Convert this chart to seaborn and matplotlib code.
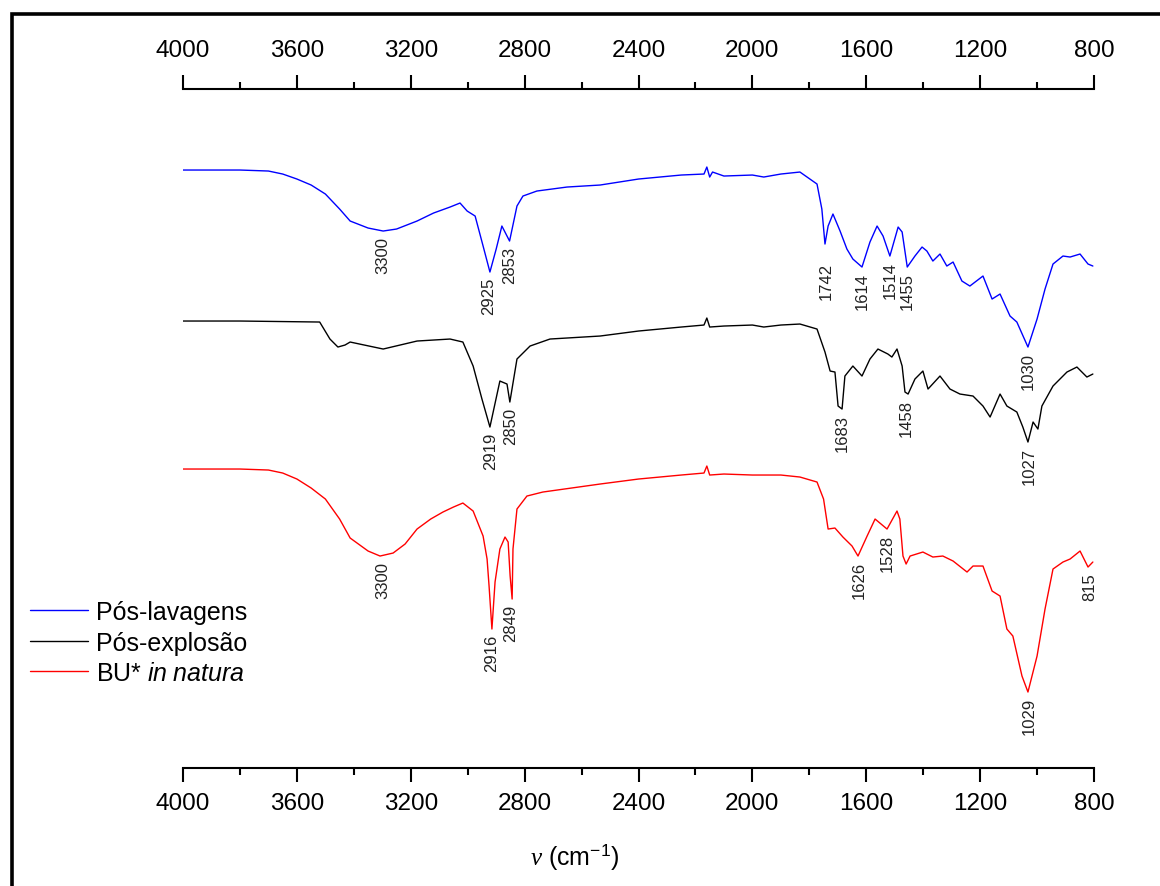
import numpy as np
import pandas as pd
import seaborn as sns
import matplotlib.pyplot as plt
from matplotlib.patches import Rectangle
from matplotlib.ticker import MultipleLocator

# Series names and colours
samples = ["Pós-lavagens", "Pós-explosão", "BU* in natura"]
legend_labels = ["Pós-lavagens", "Pós-explosão", "BU* $\\mathsf{in\\ natura}$"]
colors = ["#0000ff", "#000000", "#ff0000"]

# Pós-lavagens (wavenumber cm-1, transmittance a.u. with offset)
nu_lav = [4000, 3800, 3700, 3650, 3600, 3550, 3500, 3450, 3413, 3350, 3297, 3250,
          3178, 3120, 3062, 3027, 3002,
          2974, 2946, 2922, 2900, 2880, 2853, 2827, 2806, 2757, 2651, 2535, 2400,
          2250, 2170, 2160, 2150, 2140, 2100, 2000, 1960, 1900, 1833, 1773, 1756,
          1745, 1734, 1717, 1692, 1668, 1647, 1615, 1587, 1562, 1541, 1517, 1488,
          1474, 1456, 1429, 1404, 1387, 1366, 1341, 1317, 1295, 1264, 1236, 1190,
          1158, 1130, 1095, 1071, 1032, 1000, 972, 944, 909, 884, 849, 821, 804]
t_lav = [59.7, 59.7, 59.6, 59.3, 58.8, 58.2, 57.3, 55.8, 54.6, 53.9, 53.6, 53.8,
         54.6, 55.4, 56.0, 56.4, 55.6,
         55.1, 52.1, 49.5, 51.8, 54.1, 52.6, 56.1, 57.1, 57.6, 58.0, 58.2, 58.8,
         59.2, 59.3, 60.0, 59.0, 59.5, 59.1, 59.2, 59.0, 59.3, 59.5, 58.3, 55.8,
         52.3, 54.1, 55.3, 53.6, 51.8, 50.8, 50.0, 52.5, 54.1, 53.1, 51.1, 54.0,
         53.5, 50.0, 51.1, 52.0, 51.6, 50.6, 51.3, 50.1, 50.5, 48.6, 48.1, 49.1,
         46.8, 47.3, 45.1, 44.5, 42.0, 44.8, 47.8, 50.3, 51.1, 51.0, 51.3, 50.3, 50.1]

# Pós-explosão
nu_exp = [4000, 3800, 3520, 3484, 3456, 3431, 3413, 3380, 3297, 3178, 3062, 3017,
          2981, 2950, 2922, 2887, 2862, 2852, 2827, 2781, 2711, 2535, 2400, 2250,
          2170, 2160, 2150, 2100, 2000, 1960, 1900, 1833, 1773, 1745, 1727, 1710,
          1699, 1685, 1675, 1647, 1615, 1587, 1559, 1524, 1510, 1492, 1474, 1464,
          1453, 1429, 1401, 1383, 1341, 1306, 1271, 1225, 1190, 1165, 1130, 1106,
          1071, 1050, 1032, 1014, 997, 983, 944, 895, 860, 825, 804]
t_exp = [44.6, 44.6, 44.5, 42.8, 42.0, 42.2, 42.5, 42.3, 41.8, 42.6, 42.8, 42.5,
         40.1, 36.8, 34.0, 38.6, 38.3, 36.5, 40.8, 42.1, 42.8, 43.1, 43.6, 44.0,
         44.2, 44.9, 44.0, 44.1, 44.2, 44.0, 44.2, 44.3, 43.8, 41.5, 39.6, 39.5,
         36.1, 35.8, 39.1, 40.1, 39.1, 40.8, 41.8, 41.3, 41.0, 41.8, 40.1, 37.5,
         37.3, 38.8, 39.6, 37.8, 39.1, 37.8, 37.3, 37.1, 36.1, 35.0, 37.3, 36.1,
         35.5, 34.0, 32.5, 34.5, 33.8, 36.1, 38.1, 39.5, 40.0, 39.0, 39.3]

# BU* in natura
nu_nat = [4000, 3800, 3700, 3650, 3600, 3550, 3500, 3450, 3413, 3350, 3308, 3262,
          3220, 3178, 3130, 3087, 3050, 3017, 2981,
          2946, 2932, 2925, 2915, 2904, 2887, 2869, 2858, 2851, 2844, 2841, 2827,
          2792, 2736, 2535, 2400, 2250, 2170, 2160, 2150, 2100, 2000, 1900, 1833,
          1773, 1750, 1734, 1710, 1682, 1650, 1629, 1597, 1569, 1527, 1492, 1482,
          1471, 1460, 1446, 1401, 1366, 1331, 1295, 1246, 1225, 1190, 1158, 1130,
          1106, 1085, 1053, 1032, 1000, 972, 944, 909, 884, 849, 821, 804]
t_nat = [29.8, 29.8, 29.7, 29.4, 28.8, 27.9, 26.8, 24.8, 22.9, 21.6, 21.1, 21.4,
         22.3, 23.8, 24.8, 25.5, 26.0, 26.4, 25.6,
         23.1, 20.8, 18.1, 13.8, 18.5, 21.8, 23.0, 22.5, 19.1, 16.8, 21.8, 25.8,
         27.1, 27.5, 28.3, 28.8, 29.2, 29.4, 30.1, 29.2, 29.3, 29.2, 29.2, 29.0,
         28.5, 26.8, 23.8, 23.9, 23.0, 22.1, 21.1, 23.1, 24.8, 23.8, 25.6, 24.8,
         21.1, 20.3, 21.1, 21.5, 21.0, 21.1, 20.6, 19.5, 20.1, 20.1, 17.6, 17.1,
         13.8, 13.1, 9.1, 7.5, 11.1, 15.8, 19.8, 20.5, 20.8, 21.6, 20.0, 20.5]

# Marked bands
peaks_lav = [3300, 2925, 2853, 1742, 1614, 1514, 1455, 1030]
peaks_exp = [2919, 2850, 1683, 1458, 1027]
peaks_nat = [3300, 2916, 2849, 1626, 1528, 1029, 815]

df = pd.concat([
    pd.DataFrame({"nu": nu_lav, "T": t_lav, "amostra": samples[0]}),
    pd.DataFrame({"nu": nu_exp, "T": t_exp, "amostra": samples[1]}),
    pd.DataFrame({"nu": nu_nat, "T": t_nat, "amostra": samples[2]}),
])

sns.set_style("white")
plt.rcParams["font.family"] = ["Liberation Sans", "DejaVu Sans"]
plt.rcParams["text.color"] = "black"
plt.rcParams["axes.labelcolor"] = "black"
plt.rcParams["xtick.color"] = "black"
plt.rcParams["mathtext.fontset"] = "custom"
plt.rcParams["mathtext.rm"] = "Liberation Sans"
plt.rcParams["mathtext.it"] = "Liberation Serif:italic"
plt.rcParams["mathtext.sf"] = "Liberation Sans:italic"

fig = plt.figure(figsize=(11.6, 8.87), dpi=100)
ax = fig.add_axes([0.1578, 0.1330, 0.7853, 0.7655])

sns.lineplot(data=df, x="nu", y="T", hue="amostra", hue_order=samples,
             palette=colors, sort=False, estimator=None, lw=1.0,
             legend=False, ax=ax)

# peak labels under each band
extra = {1742: 1.3}
for nu, t, peaks in [(nu_lav, t_lav, peaks_lav), (nu_exp, t_exp, peaks_exp),
                     (nu_nat, t_nat, peaks_nat)]:
    nu_a = np.array(nu)
    t_a = np.array(t)
    for p in peaks:
        y0 = t_a[np.abs(nu_a - p) <= 12].min()
        ax.text(p, y0 - 0.5 - extra.get(p, 0), str(p), rotation=90,
                ha="center", va="top", fontsize=12, color="#222222")

ax.set_xlim(4000, 800)
ax.set_ylim(-0.1, 67.8)
ax.set_yticks([])
ax.set_ylabel("")
ax.set_xticks(range(4000, 799, -400))
ax.xaxis.set_minor_locator(MultipleLocator(200))
for s in ["left", "right", "top"]:
    ax.spines[s].set_visible(False)
ax.spines["bottom"].set_linewidth(1.5)
ax.spines["bottom"].set_color("black")
ax.tick_params(axis="x", which="major", direction="out", length=10, width=1.5,
               pad=7, labelsize=17.5, bottom=True)
ax.tick_params(axis="x", which="minor", direction="out", length=5, width=1.5,
               bottom=True)

secax = ax.secondary_xaxis("top")
secax.set_xticks(range(4000, 799, -400))
secax.xaxis.set_minor_locator(MultipleLocator(200))
secax.spines["top"].set_linewidth(1.5)
secax.spines["top"].set_color("black")
secax.tick_params(axis="x", which="major", direction="out", length=10, width=1.5,
                  pad=10, labelsize=17.5)
secax.tick_params(axis="x", which="minor", direction="out", length=5, width=1.5)

ax.set_xlabel(r"$\nu$ (cm$^{-1}$)", fontsize=18)
ax.xaxis.set_label_coords(0.43, -0.107)

fig.legend(ax.get_lines()[:3], legend_labels, loc="center left",
           bbox_to_anchor=(30 / 1160, 243.5 / 887), frameon=False, fontsize=18,
           handlelength=2.3, handletextpad=0.36, labelspacing=0.26,
           borderpad=0, borderaxespad=0)

# outer frame of the original figure
fig.add_artist(Rectangle((11.5 / 1160, -0.05), 1.1, (887 - 15) / 887 + 0.05,
                         transform=fig.transFigure, fill=False, lw=2.6,
                         ec="black", clip_on=False))

fig.savefig("out.png", dpi=100)
